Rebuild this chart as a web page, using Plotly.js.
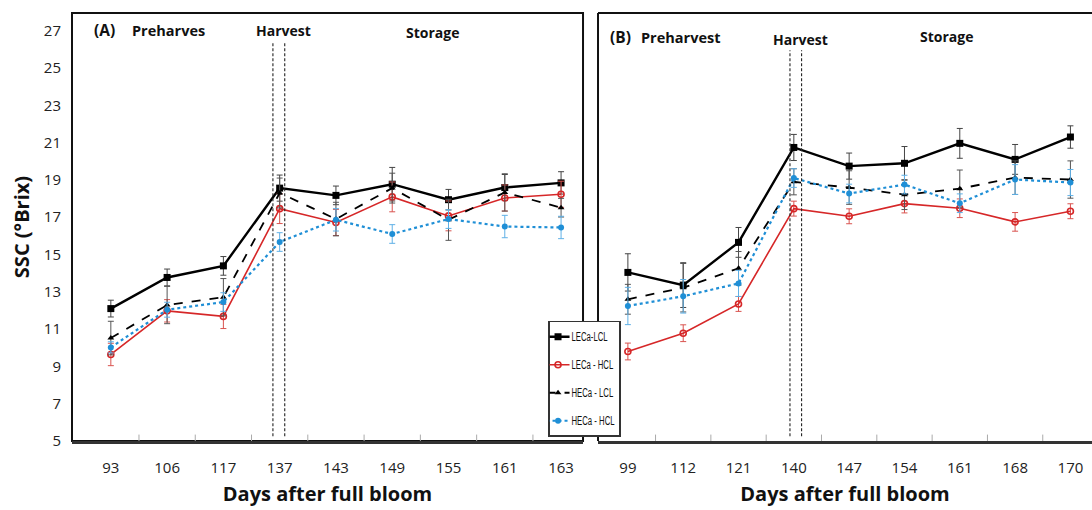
<!DOCTYPE html>
<html><head><meta charset="utf-8">
<script src="https://cdn.plot.ly/plotly-3.0.1.min.js"></script>
<style>body{margin:0;background:#fff}#c{width:1092px;height:510px}</style>
</head><body><div id="c"></div>
<script>
// Panel A
const daysA = ['93','106','117','137','143','149','155','161','163'];
const A_LECa_LCL = [12.1, 13.77, 14.39, 18.56, 18.17, 18.77, 17.94, 18.59, 18.84];
const A_LECa_HCL = [9.64, 11.98, 11.68, 17.46, 16.72, 18.09, 17.07, 18.03, 18.23];
const A_HECa_LCL = [10.52, 12.29, 12.71, 18.3, 16.9, 18.56, 16.86, 18.33, 17.51];
const A_HECa_HCL = [10.02, 12.04, 12.45, 15.67, 16.86, 16.1, 16.9, 16.5, 16.45];
const A_err_LL = [0.45, 0.45, 0.5, 0.7, 0.5, 0.9, 0.55, 0.7, 0.6];
const A_err_LH = [0.6, 0.6, 0.65, 0.8, 0.7, 0.8, 0.8, 0.7, 0.7];
const A_err_HL = [0.9, 1.0, 1.0, 0.8, 0.9, 0.8, 1.1, 1.0, 0.5];
const A_err_HH = [0.3, 0.4, 0.5, 0.5, 0.6, 0.5, 0.5, 0.6, 0.6];
// Panel B
const daysB = ['99','112','121','140','147','154','161','168','170'];
const B_LECa_LCL = [14.04, 13.36, 15.65, 20.74, 19.74, 19.89, 20.96, 20.1, 21.3];
const B_LECa_HCL = [9.8, 10.78, 12.35, 17.46, 17.05, 17.73, 17.48, 16.75, 17.32];
const B_HECa_LCL = [12.6, 13.22, 14.26, 18.9, 18.59, 18.21, 18.53, 19.12, 19.02];
const B_HECa_HCL = [12.24, 12.76, 13.45, 19.1, 18.27, 18.75, 17.75, 19.02, 18.86];
const B_err_LL = [1.0, 1.2, 0.8, 0.7, 0.7, 0.9, 0.8, 0.8, 0.6];
const B_err_LH = [0.45, 0.45, 0.4, 0.4, 0.4, 0.5, 0.5, 0.5, 0.4];
const B_err_HL = [0.8, 1.3, 0.9, 0.7, 0.9, 0.8, 1.0, 0.9, 1.0];
const B_err_HH = [1.0, 0.9, 0.7, 0.5, 0.5, 0.5, 0.5, 0.8, 0.7];
const seriesNames = ['LECa-LCL','LECa - HCL','HECa - LCL','HECa - HCL'];
const yTicks = [5,7,9,11,13,15,17,19,21,23,25,27];

const styles = [
  {line:{color:'#000',width:2.4,dash:'solid'}, marker:{symbol:'square',size:7,color:'#000'}, ec:'#444'},
  {line:{color:'#d62728',width:1.6,dash:'solid'}, marker:{symbol:'circle-open',size:6,color:'#d62728',line:{width:1.6}}, ec:'#d9534f'},
  {line:{color:'#000',width:1.8,dash:'dash'}, marker:{symbol:'triangle-up',size:6,color:'#000'}, ec:'#555'},
  {line:{color:'#1f8fd6',width:2.2,dash:'dot'}, marker:{symbol:'circle',size:6,color:'#1f8fd6'}, ec:'#5fb0e6'}
];
const idx = daysA.map((d,i)=>i);
function mk(vals, errs, k, xa, ya, showleg){
  const s = styles[k];
  return {x: idx, y: vals, type:'scatter', mode:'lines+markers', name: seriesNames[k],
    legendgroup:'g'+k, showlegend: showleg, xaxis: xa, yaxis: ya,
    line: s.line, marker: s.marker,
    error_y:{type:'data', array: errs, visible:true, color:s.ec, thickness:1, width:3}};
}
const data = [
  mk(A_LECa_LCL, A_err_LL, 0, 'x','y', true),
  mk(A_LECa_HCL, A_err_LH, 1, 'x','y', true),
  mk(A_HECa_LCL, A_err_HL, 2, 'x','y', true),
  mk(A_HECa_HCL, A_err_HH, 3, 'x','y', true),
  mk(B_LECa_LCL, B_err_LL, 0, 'x2','y2', false),
  mk(B_LECa_HCL, B_err_LH, 1, 'x2','y2', false),
  mk(B_HECa_LCL, B_err_HL, 2, 'x2','y2', false),
  mk(B_HECa_HCL, B_err_HH, 3, 'x2','y2', false)
];
const F = 'Open Sans, sans-serif';
const xBase = {tickmode:'array', tickvals: idx, showgrid:false, zeroline:false, ticks:'',
  showline:true, linewidth:2.5, linecolor:'#333', tickfont:{family:F,size:15,color:'#222'},
  ticklabelstandoff: 11,
  title:{text:'<b>Days after full bloom</b>', font:{family:F,size:20,color:'#111'}, standoff: 12}};

const shapes = [
  {type:'rect', xref:'x domain', yref:'y domain', x0:0, x1:1, y0:0, y1:1, line:{color:'#111', width:2}, layer:'below'},
  {type:'line', xref:'x2 domain', yref:'y2 domain', x0:0, x1:0, y0:0, y1:1, line:{color:'#111', width:2}, layer:'below'},
  {type:'line', xref:'x2 domain', yref:'y2 domain', x0:0, x1:1, y0:1, y1:1, line:{color:'#111', width:2}, layer:'below'},
  {type:'line', xref:'x', yref:'y', x0:2.88, x1:2.88, y0:5.25, y1:26.4, line:{color:'#222', width:1.1, dash:'3px,2px'}},
  {type:'line', xref:'x', yref:'y', x0:3.09, x1:3.09, y0:5.25, y1:26.4, line:{color:'#222', width:1.1, dash:'3px,2px'}},
  {type:'line', xref:'x2', yref:'y2', x0:2.93, x1:2.93, y0:5.25, y1:25.95, line:{color:'#222', width:1.1, dash:'3px,2px'}},
  {type:'line', xref:'x2', yref:'y2', x0:3.14, x1:3.14, y0:5.25, y1:25.95, line:{color:'#222', width:1.1, dash:'3px,2px'}}
];
// tick marks between categories (Excel style)
idx.forEach(i => {
  ['x','x2'].forEach((xa,j) => {
    shapes.push({type:'line', xref:xa, yref:(j?'y2':'y')+' domain', x0:i+0.5, x1:i+0.5, y0:0, y1:0.015, line:{color:'#aaa', width:1}});
  });
});
const ann = (x,y,t,s)=>({xref:'paper', yref:'paper', x:x, y:y, text:'<b>'+t+'</b>', showarrow:false, xanchor:'left', yanchor:'middle', font:{family:F,size:s,color:'#111'}});
const layout = {
  width:1092, height:510, paper_bgcolor:'#fff', plot_bgcolor:'rgba(0,0,0,0)',
  margin:{l:72, r:0, t:13, b:69},
  showlegend:true,
  xaxis: Object.assign({}, xBase, {domain:[0, 0.501], range:[-0.69, 8.39], ticktext: daysA, anchor:'y'}),
  xaxis2: Object.assign({}, xBase, {domain:[0.5157, 1], range:[-0.54, 8.39], ticktext: daysB, anchor:'y2'}),
  yaxis: {domain:[0,1], range:[5, 27.95], tickmode:'array', tickvals:yTicks, showgrid:false, zeroline:false,
    showline:false, ticks:'', tickfont:{family:F,size:15,color:'#222'}, ticklabelstandoff: 10,
    title:{text:'<b>SSC (°Brix)</b>', font:{family:F,size:20,color:'#111'}, standoff: 8}, anchor:'x'},
  yaxis2: {domain:[0,1], range:[5, 27.95], showgrid:false, zeroline:false, showline:false,
    showticklabels:false, ticks:'', anchor:'x2'},
  legend:{x:0.4667, y:0.281, xanchor:'left', yanchor:'top', bgcolor:'#fff', bordercolor:'#333', borderwidth:1.5,
    font:{family:'Liberation Sans, sans-serif', size:12, color:'#111'}, tracegroupgap:9, itemwidth:30},
  shapes: shapes,
  annotations:[
    ann(0.0196, 0.960, '(A)', 15.5),
    ann(0.0569, 0.960, 'Preharves', 14.5),
    ann(0.178, 0.958, 'Harvest', 14),
    ann(0.325, 0.955, 'Storage', 14),
    ann(0.525, 0.944, '(B)', 15.5),
    ann(0.5559, 0.942, 'Preharvest', 14.5),
    ann(0.6853, 0.939, 'Harvest', 14),
    ann(0.8294, 0.944, 'Storage', 14)
  ]
};
function fixLegend(gd){
  // condense legend entries (the reference uses a narrow font)
  const texts = gd.querySelectorAll('.legend .legendtext');
  let maxW = 0;
  texts.forEach(t => { t.removeAttribute('textLength'); maxW = Math.max(maxW, t.getComputedTextLength()); });
  const k = 43 / maxW;
  texts.forEach(t => {
    const w = t.getComputedTextLength();
    t.setAttribute('x', 22);
    t.setAttribute('textLength', (w*k).toFixed(1));
    t.setAttribute('lengthAdjust', 'spacingAndGlyphs');
  });
  gd.querySelectorAll('.legend path.js-line').forEach(p => p.setAttribute('d', 'M-3,0h23'));
  gd.querySelectorAll('.legend path.scatterpts').forEach(p => p.setAttribute('transform', 'translate(8.5,0)'));
  const bg = gd.querySelector('.legend rect.bg');
  if (bg) bg.setAttribute('width', 71);
}
Plotly.newPlot('c', data, layout, {displayModeBar:false, staticPlot:true}).then(gd => {
  fixLegend(gd);
  gd.on('plotly_afterplot', () => fixLegend(gd));
  setTimeout(() => fixLegend(gd), 200);
  setTimeout(() => fixLegend(gd), 800);
});
</script></body></html>
